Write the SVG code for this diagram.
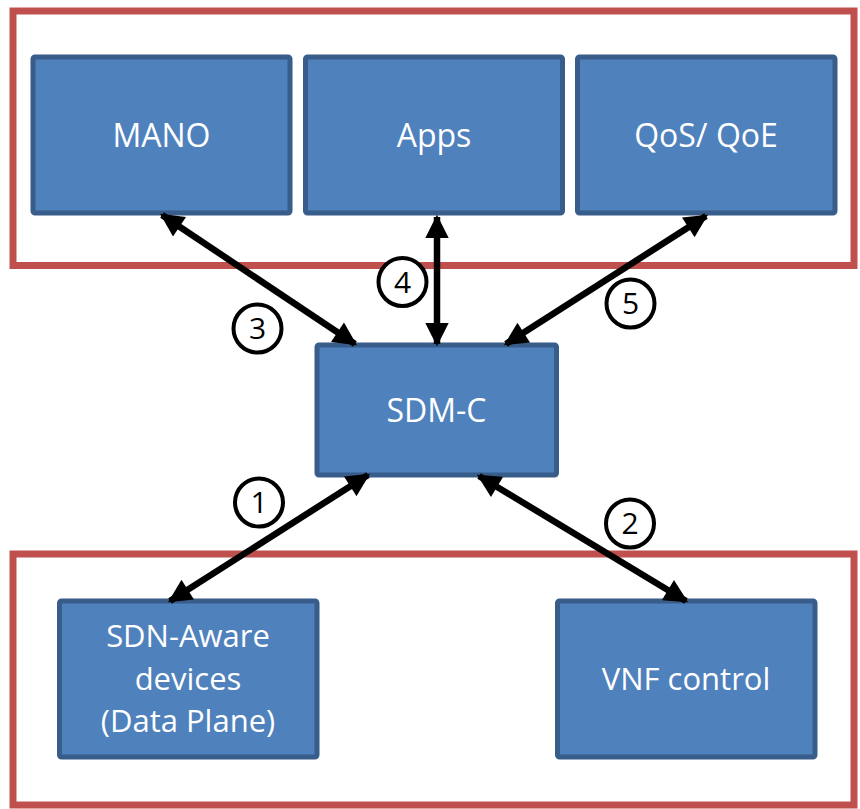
<svg xmlns="http://www.w3.org/2000/svg" width="860" height="809" viewBox="0 0 860 809">
  <style>
    .zone { fill: none; stroke: #C0504D; stroke-width: 7; }
    .box { fill: #4F81BD; stroke: #385D8A; stroke-width: 5; }
    .lbl { fill: #FFFFFF; font-family: "Open Sans", "Noto Sans", sans-serif; font-size: 32px; text-anchor: middle; }
    .lbl.sm { font-size: 31px; }
    .link { stroke: #000000; stroke-width: 6.5; fill: none; marker-start: url(#head); marker-end: url(#head); }
    .badge circle { fill: #FFFFFF; stroke: #000000; stroke-width: 4; }
    .badge text { fill: #000000; font-family: "Open Sans", "Noto Sans", sans-serif; font-size: 30px; text-anchor: middle; }
  </style>
  <defs>
    <marker id="head" viewBox="0 0 10 10" refX="9" refY="5" markerWidth="3.8" markerHeight="3.6" orient="auto-start-reverse" markerUnits="strokeWidth">
      <path d="M0,0 L10,5 L0,10 z" fill="#000000"/>
    </marker>
  </defs>
  <rect width="860" height="809" fill="#FFFFFF"/>

  <!-- layer frames -->
  <g id="upper-layer"><rect class="zone" x="13" y="11" width="841" height="254.5"/></g>
  <g id="lower-layer"><rect class="zone" x="13" y="554" width="841" height="251"/></g>

  <!-- nodes -->
  <g id="mano">
    <rect class="box" x="33" y="57" width="257" height="156" rx="2"/>
    <text class="lbl" x="161.5" y="146.5">MANO</text>
  </g>
  <g id="apps">
    <rect class="box" x="305.5" y="57" width="257" height="156" rx="2"/>
    <text class="lbl" x="434" y="146.5">Apps</text>
  </g>
  <g id="qos-qoe">
    <rect class="box" x="577.5" y="57" width="257.5" height="156" rx="2"/>
    <text class="lbl" x="706" y="146.5">QoS/ QoE</text>
  </g>
  <g id="sdm-c">
    <rect class="box" x="317" y="345" width="239.5" height="130" rx="2"/>
    <text class="lbl" x="436.5" y="422">SDM-C</text>
  </g>
  <g id="sdn-aware">
    <rect class="box" x="59.5" y="601" width="257.5" height="156" rx="2"/>
    <text class="lbl sm" x="188" y="646.5">SDN-Aware</text>
    <text class="lbl sm" x="188" y="689.5">devices</text>
    <text class="lbl sm" x="188" y="732">(Data Plane)</text>
  </g>
  <g id="vnf-control">
    <rect class="box" x="557.5" y="601" width="257.5" height="156" rx="2"/>
    <text class="lbl sm" x="686" y="689.5">VNF control</text>
  </g>

  <!-- connectors -->
  <g id="connectors">
    <line class="link" x1="162" y1="215" x2="355" y2="344"/>
    <line class="link" x1="437" y1="217" x2="437" y2="344"/>
    <line class="link" x1="706" y1="216" x2="506" y2="344"/>
    <line class="link" x1="368" y1="475" x2="170" y2="601"/>
    <line class="link" x1="479" y1="476" x2="686" y2="601"/>
  </g>

  <!-- interface numbers -->
  <g id="badges">
    <g class="badge"><circle cx="259" cy="502.5" r="24"/><text x="259" y="513">1</text></g>
    <g class="badge"><circle cx="630" cy="523.5" r="24"/><text x="630" y="534">2</text></g>
    <g class="badge"><circle cx="257.5" cy="328.5" r="24"/><text x="257.5" y="339">3</text></g>
    <g class="badge"><circle cx="402.5" cy="282" r="24"/><text x="402.5" y="292.5">4</text></g>
    <g class="badge"><circle cx="630.5" cy="303.5" r="24"/><text x="630.5" y="314">5</text></g>
  </g>
</svg>
